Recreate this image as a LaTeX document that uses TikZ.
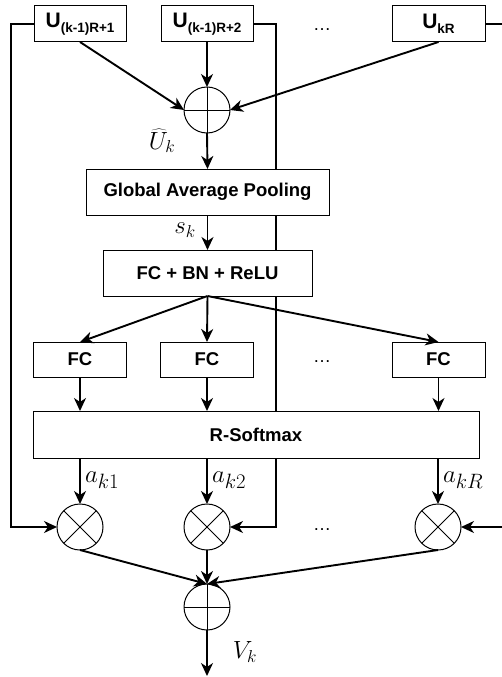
\documentclass[tikz,border=0pt]{standalone}
\usepackage{fontspec}
\setsansfont{Liberation Sans}
\usetikzlibrary{arrows.meta,backgrounds}
\begin{document}
\begin{tikzpicture}[x=1pt,y=-1pt,
  box/.style={draw, line width=1pt, fill=white, inner sep=0pt, outer sep=0pt,
    font=\sffamily\bfseries\fontsize{18.5}{20}\selectfont},
  ubox/.style={box, minimum width=92pt, minimum height=36pt},
  fcbox/.style={box, minimum width=93pt, minimum height=35pt},
  op/.style={draw, circle, line width=1pt, minimum size=46pt, inner sep=0pt, outer sep=0pt},
  conn/.style={line width=1.9pt, -{Stealth[length=13pt,width=12pt,inset=4pt]}},
  plain/.style={line width=1.9pt},
  mlab/.style={font=\fontsize{26}{28}\selectfont, inner sep=0pt},
  dots/.style={font=\sffamily\fontsize{18}{20}\selectfont, inner sep=0pt}
]
\useasboundingbox (0,0) rectangle (501,677);

\coordinate (rtop) at (502,24);
\coordinate (rbot) at (502,527);
\coordinate (out) at (207,676);

\newcommand{\ulab}[1]{\fontsize{21}{22}\selectfont U\raisebox{-0.45ex}{\fontsize{13.5}{15}\selectfont #1}}
\node[ubox] (u1) at (80,24) {\ulab{(k-1)R+1}};
\node[ubox] (u2) at (207,24) {\ulab{(k-1)R+2}};
\node[ubox, minimum width=93pt] (u3) at (438.5,24) {\ulab{kR}};
\node[dots] (d1) at (322,30) {\dots};

\node[op] (s1) at (207,110) {};
\draw[line width=1pt] (s1.north) -- (s1.south) (s1.west) -- (s1.east);

\node[box, minimum width=243pt, minimum height=46pt] (gap) at (207.5,192) {Global Average Pooling};
\node[box, minimum width=209pt, minimum height=46pt] (fcbn) at (207.5,273) {FC + BN + ReLU};

\node[fcbox] (f1) at (80,359.5) {FC};
\node[fcbox] (f2) at (207,359.5) {FC};
\node[fcbox] (f3) at (438.5,359.5) {FC};
\node[dots] (d2) at (322,362) {\dots};

\node[box, minimum width=446pt, minimum height=47pt] (rs) at (256,434.5) {R-Softmax};

\node[op] (m1) at (80,527) {};
\node[op] (m2) at (207,527) {};
\node[op] (m3) at (438,527) {};
\foreach \m in {m1,m2,m3}{
  \draw[line width=1pt] (\m.45) -- (\m.225) (\m.135) -- (\m.-45);
}
\node[dots] (d3) at (322,530) {\dots};

\node[op] (s2) at (207,607) {};
\draw[line width=1pt] (s2.north) -- (s2.south) (s2.west) -- (s2.east);

\begin{scope}[on background layer]
  \draw[conn] (u1.west) -- ++(-23,0) |- (m1.west);
  \draw[conn] (u2.east) -- ++(23,0) |- (m2.east);
  \draw[plain] (u3.east) -- (rtop);
\end{scope}
\draw[conn] (rbot) -- (m3.east);

\draw[conn] (u1.south) -- (s1.west);
\draw[conn] (u2.south) -- (s1.north);
\draw[conn] (u3.south) -- (s1.east);
\draw[conn] (s1.south) -- (gap.north);
\node[mlab, anchor=center] (uk) at (162,141) {$\widehat{U}_k$};

\draw[conn] (gap.south) -- (fcbn.north);
\node[mlab, anchor=center] (sk) at (185,230) {$s_k$};

\draw[conn] (fcbn.south) -- (f1.north);
\draw[conn] (fcbn.south) -- (f2.north);
\draw[conn] (fcbn.south) -- (f3.north);

\draw[conn] (f1.south) -- (f1.south |- rs.north);
\draw[conn] (f2.south) -- (f2.south |- rs.north);
\draw[conn] (f3.south) -- (f3.south |- rs.north);

\draw[conn] (m1.north |- rs.south) -- (m1.north);
\draw[conn] (m2.north |- rs.south) -- (m2.north);
\draw[conn] (m3.north |- rs.south) -- (m3.north);
\node[mlab, font=\fontsize{29}{30}\selectfont, anchor=west] (a1) at (85,480) {$a_{k1}$};
\node[mlab, font=\fontsize{29}{30}\selectfont, anchor=west] (a2) at (212,480) {$a_{k2}$};
\node[mlab, font=\fontsize{29}{30}\selectfont, anchor=west] (a3) at (443,480) {$a_{kR}$};

\draw[conn] (m1.south) -- (s2.north);
\draw[conn] (m2.south) -- (s2.north);
\draw[conn] (m3.south) -- (s2.north);

\draw[conn] (s2.south) -- (out);
\node[mlab, anchor=center] (vk) at (245,652) {$V_k$};
\end{tikzpicture}
\end{document}
